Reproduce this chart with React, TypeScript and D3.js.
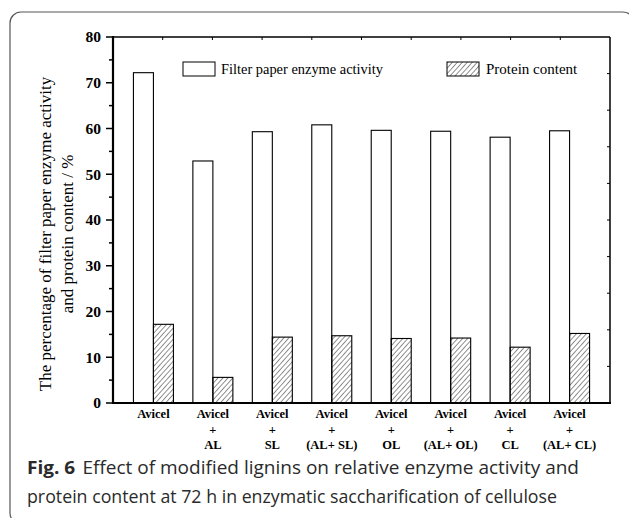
import React, { useMemo } from 'react';
import * as d3 from 'd3';

const categories: string[][] = [
  ['Avicel'],
  ['Avicel', '+', 'AL'],
  ['Avicel', '+', 'SL'],
  ['Avicel', '+', '(AL+ SL)'],
  ['Avicel', '+', 'OL'],
  ['Avicel', '+', '(AL+ OL)'],
  ['Avicel', '+', 'CL'],
  ['Avicel', '+', '(AL+ CL)'],
];
const enzymeActivity = [72.2, 52.9, 59.3, 60.8, 59.6, 59.4, 58.1, 59.5];
const proteinContent = [17.2, 5.6, 14.4, 14.7, 14.1, 14.2, 12.2, 15.2];
const yTicks = [0, 10, 20, 30, 40, 50, 60, 70, 80];
const legendLabels = ['Filter paper enzyme activity', 'Protein content'];
const yTitle = ['The percentage of filter paper enzyme activity', 'and protein content / %'];
const captionBold = 'Fig. 6';
const captionLines = [
  'Effect of modified lignins on relative enzyme activity and',
  'protein content at 72 h in enzymatic saccharification of cellulose',
];

const W = 629;
const H = 518;
const left = 113;
const right = 610;
const top = 37;
const bottom = 403;
const barW = 20;
const serif = '"Liberation Serif", "Times New Roman", serif';
const sans = '"Open Sans", "Noto Sans", sans-serif';

export default function App() {
  const keys = categories.map((_, i) => String(i));
  const x = useMemo(
    () => d3.scaleBand<string>().domain(keys).range([left, right]).paddingInner(0).paddingOuter(0.18),
    []
  );
  const y = useMemo(() => d3.scaleLinear().domain([0, 80]).range([bottom, top]), []);
  const xTop = d3.scaleLinear().domain([0, 10]).range([left, right]);
  const yRight = d3.scaleLinear().domain([0, 10]).range([bottom, top]);
  const minorTicks = d3.range(5, 80, 10);

  const center = (i: number) => (x(String(i)) ?? 0) + x.bandwidth() / 2;

  return (
    <svg
      width={W}
      height={H}
      style={{ position: 'fixed', left: 0, top: 0, background: '#fff' }}
      viewBox={`0 0 ${W} ${H}`}
    >
      <defs>
        <pattern id="hatch" patternUnits="userSpaceOnUse" width={3.7} height={4} patternTransform="rotate(42)">
          <line x1={0} y1={0} x2={0} y2={4} stroke="#000" strokeWidth={0.9} />
        </pattern>
      </defs>

      {/* outer frame */}
      <rect x={10} y={12} width={624} height={512} rx={11} fill="none" stroke="#555" strokeWidth={1.2} />

      {/* bars */}
      {enzymeActivity.map((v, i) => (
        <rect
          key={'e' + i}
          x={center(i) - barW}
          y={y(v)}
          width={barW}
          height={y(0) - y(v)}
          fill="#fff"
          stroke="#000"
          strokeWidth={1.1}
        />
      ))}
      {proteinContent.map((v, i) => (
        <rect
          key={'p' + i}
          x={center(i)}
          y={y(v)}
          width={barW}
          height={y(0) - y(v)}
          fill="url(#hatch)"
          stroke="#000"
          strokeWidth={1.1}
        />
      ))}

      {/* frame axes */}
      <line x1={left} y1={top} x2={right} y2={top} stroke="#000" strokeWidth={1.5} />
      <line x1={right} y1={top} x2={right} y2={bottom} stroke="#000" strokeWidth={1.5} />
      <line x1={left} y1={top - 1} x2={left} y2={bottom + 1} stroke="#000" strokeWidth={2.2} />
      <line x1={left - 1} y1={bottom} x2={right + 1} y2={bottom} stroke="#000" strokeWidth={2.2} />

      {/* top ticks */}
      {xTop.ticks(10).slice(1, -1).map((t) => (
        <line key={'tt' + t} x1={xTop(t)} x2={xTop(t)} y1={top} y2={top + 3} stroke="#000" strokeWidth={1} />
      ))}
      {/* right ticks */}
      {yRight.ticks(10).slice(1, -1).map((t) => (
        <line key={'rt' + t} x1={right - 3} x2={right} y1={yRight(t)} y2={yRight(t)} stroke="#000" strokeWidth={1} />
      ))}

      {/* y ticks */}
      {yTicks.map((t) => (
        <g key={'y' + t}>
          <line x1={left - 7} x2={left} y1={y(t)} y2={y(t)} stroke="#000" strokeWidth={1.5} />
          <text
            x={101}
            y={y(t)}
            dy="0.35em"
            textAnchor="end"
            fontFamily={serif}
            fontWeight="bold"
            fontSize={15.5}
          >
            {t}
          </text>
        </g>
      ))}
      {minorTicks.map((t) => (
        <line key={'m' + t} x1={left - 4} x2={left + 1} y1={y(t)} y2={y(t)} stroke="#000" strokeWidth={1.5} />
      ))}

      {/* y title */}
      {yTitle.map((s, i) => (
        <text
          key={'yt' + i}
          transform={`translate(${51 + i * 22},234) rotate(-90)`}
          textAnchor="middle"
          fontFamily={serif}
          fontSize={17}
        >
          {s}
        </text>
      ))}

      {/* category labels */}
      {categories.map((lines, i) => (
        <text
          key={'c' + i}
          x={center(i)}
          y={418}
          textAnchor="middle"
          fontFamily={serif}
          fontWeight="bold"
          fontSize={12.5}
        >
          {lines.map((l, j) => (
            <tspan key={j} x={center(i)} dy={j === 0 ? 0 : 15.5}>
              {l}
            </tspan>
          ))}
        </text>
      ))}

      {/* legend */}
      <rect x={183} y={62} width={32} height={14} fill="#fff" stroke="#000" strokeWidth={1} />
      <text x={221} y={74} fontFamily={serif} fontSize={15} textLength={162} lengthAdjust="spacingAndGlyphs">
        {legendLabels[0]}
      </text>
      <rect x={447} y={62} width={32} height={14} fill="url(#hatch)" stroke="#000" strokeWidth={1} />
      <text x={486} y={74} fontFamily={serif} fontSize={15}>
        {legendLabels[1]}
      </text>

      {/* caption */}
      <text x={27} y={474} fontFamily={sans} fontSize={18.5} fill="#2a2a2a" textLength={552} lengthAdjust="spacingAndGlyphs">
        <tspan fontWeight="bold">{captionBold}</tspan>
        <tspan dx={7}>{captionLines[0]}</tspan>
      </text>
      <text x={27} y={503} fontFamily={sans} fontSize={18.5} fill="#2a2a2a" textLength={530} lengthAdjust="spacingAndGlyphs">
        {captionLines[1]}
      </text>
    </svg>
  );
}
